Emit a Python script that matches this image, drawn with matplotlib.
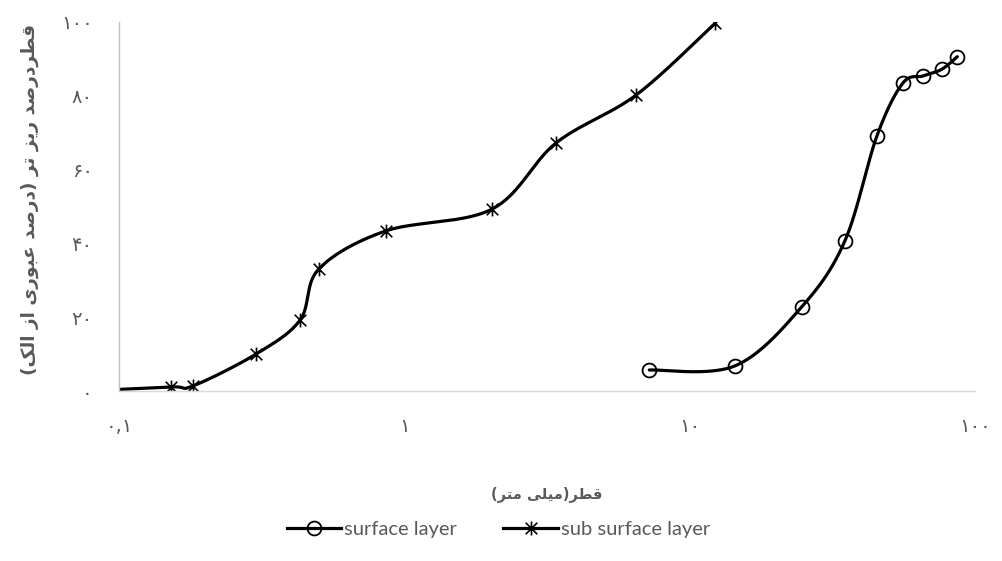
import numpy as np
import matplotlib
matplotlib.use("Agg")
import matplotlib.pyplot as plt
from matplotlib.lines import Line2D
from matplotlib.path import Path

# sieve analysis: particle diameter (mm) vs percent passing
sub_d = [0.075, 0.152, 0.182, 0.302, 0.431, 0.502, 0.863, 2.03, 3.40, 6.49, 12.3]
sub_p = [0.0, 1.1, 1.4, 10.0, 19.2, 33.1, 43.4, 49.3, 67.2, 80.2, 99.7]

surf_d = [7.22, 14.4, 24.7, 35.0, 45.3, 55.8, 65.9, 76.5, 86.7]
surf_p = [5.7, 6.8, 22.8, 40.7, 69.1, 83.4, 85.4, 87.2, 90.6]

y_ticks = [0, 20, 40, 60, 80, 100]
y_tick_labels = ["۰", "۲۰", "۴۰", "۶۰", "۸۰", "۱۰۰"]
x_ticks = [0.1, 1, 10, 100]
x_tick_labels = ["۰,۱", "۱", "۱۰", "۱۰۰"]

x_title = "قطر(میلی متر)"
y_title = "قطردرصد ریز تر (درصد عبوری از الک)"
series_names = ["surface layer", "sub surface layer"]

GREY = "#595959"

# isolated, final, initial, medial presentation forms
FORMS = {
    "ا": ("\uFE8D", "\uFE8E", None, None),
    "ب": ("\uFE8F", "\uFE90", "\uFE91", "\uFE92"),
    "ت": ("\uFE95", "\uFE96", "\uFE97", "\uFE98"),
    "د": ("\uFEA9", "\uFEAA", None, None),
    "ر": ("\uFEAD", "\uFEAE", None, None),
    "ز": ("\uFEAF", "\uFEB0", None, None),
    "ص": ("\uFEB9", "\uFEBA", "\uFEBB", "\uFEBC"),
    "ط": ("\uFEC1", "\uFEC2", "\uFEC3", "\uFEC4"),
    "ع": ("\uFEC9", "\uFECA", "\uFECB", "\uFECC"),
    "ق": ("\uFED5", "\uFED6", "\uFED7", "\uFED8"),
    "ل": ("\uFEDD", "\uFEDE", "\uFEDF", "\uFEE0"),
    "م": ("\uFEE1", "\uFEE2", "\uFEE3", "\uFEE4"),
    "و": ("\uFEED", "\uFEEE", None, None),
    "ی": ("\uFBFC", "\uFBFD", "\uFBFE", "\uFBFF"),
    "ک": ("\uFB8E", "\uFB8F", "\uFB90", "\uFB91"),
}


def shape_fa(text):
    """Join Persian letters and put them in visual (left-to-right) order."""
    out = []
    for i, ch in enumerate(text):
        if ch not in FORMS:
            out.append(ch)
            continue
        iso, fin, ini, med = FORMS[ch]
        prev = text[i - 1] if i > 0 else ""
        nxt = text[i + 1] if i + 1 < len(text) else ""
        join_prev = prev in FORMS and FORMS[prev][2] is not None
        join_next = ini is not None and nxt in FORMS
        if join_prev and join_next:
            out.append(med)
        elif join_prev:
            out.append(fin)
        elif join_next:
            out.append(ini)
        else:
            out.append(iso)
    visual = "".join(out)[::-1]
    return visual.translate(str.maketrans("()", ")("))


def smooth(xs, ys, n=40):
    """Excel-like smoothed line (cardinal bezier) in log-x space."""
    u = np.log10(np.asarray(xs, dtype=float))
    v = np.asarray(ys, dtype=float)
    pts = np.column_stack([u, v])
    ext = np.vstack([pts[0], pts, pts[-1]])
    t = np.linspace(0, 1, n)[:, None]
    seg = []
    for i in range(len(pts) - 1):
        p0, p3 = ext[i + 1], ext[i + 2]
        p1 = p0 + (ext[i + 2] - ext[i]) / 6.0
        p2 = p3 - (ext[i + 3] - ext[i + 1]) / 6.0
        b = ((1 - t) ** 3) * p0 + 3 * ((1 - t) ** 2) * t * p1 + 3 * (1 - t) * t ** 2 * p2 + t ** 3 * p3
        seg.append(b)
    curve = np.vstack(seg)
    return 10 ** curve[:, 0], curve[:, 1]


star = Path(
    [(-1, -1), (1, 1), (-1, 1), (1, -1), (0, -1.2), (0, 1.2)],
    [Path.MOVETO, Path.LINETO, Path.MOVETO, Path.LINETO, Path.MOVETO, Path.LINETO],
)

fig = plt.figure(figsize=(10.03, 5.61), dpi=100)
ax = fig.add_axes([0.1186, 0.303, 0.8535, 0.6578])

lw = 2.3
sx, sy = smooth(surf_d, surf_p)
ax.plot(sx, sy, color="black", lw=lw, solid_capstyle="round")
ax.plot(surf_d, surf_p, linestyle="none", marker="o", ms=10, mfc="none", mec="black", mew=1.3)

bx, by = smooth(sub_d, sub_p)
ax.plot(bx, by, color="black", lw=lw, solid_capstyle="round")
ax.plot(sub_d, sub_p, linestyle="none", marker=star, ms=10, mfc="none", mec="black", mew=1.2)

ax.set_xscale("log")
ax.set_xlim(0.1, 100)
ax.set_ylim(0, 100)
ax.set_xticks(x_ticks)
ax.set_xticklabels(x_tick_labels)
ax.set_yticks(y_ticks)
ax.set_yticklabels(y_tick_labels)
ax.minorticks_off()
ax.tick_params(length=0, colors=GREY, labelsize=14)
ax.tick_params(axis="x", pad=19)
ax.tick_params(axis="y", pad=19)

for side in ["top", "right"]:
    ax.spines[side].set_visible(False)
ax.spines["left"].set_color("#bfbfbf")
ax.spines["bottom"].set_color("#d9d9d9")
ax.spines["left"].set_linewidth(1.0)
ax.spines["bottom"].set_linewidth(1.0)

ax.set_xlabel(shape_fa(x_title), fontsize=10.5, fontweight="bold", color=GREY, va="center")
ax.set_ylabel(shape_fa(y_title), fontsize=13.3, fontweight="bold", color=GREY, va="center", ha="center")
ax.xaxis.set_label_coords(0.5, -0.279)
ax.yaxis.set_label_coords(-0.104, 0.518)

handles = [
    Line2D([], [], color="black", lw=lw, marker="o", ms=10, mfc="none", mec="black", mew=1.3),
    Line2D([], [], color="black", lw=lw, marker=star, ms=10, mfc="none", mec="black", mew=1.2),
]
fig.legend(handles, series_names, loc="center", bbox_to_anchor=(0.497, 0.057), ncol=2,
           frameon=False, handlelength=2.7, columnspacing=2.3, handletextpad=0.15,
           prop={"family": "Lato", "size": 14.5}, labelcolor=GREY)

fig.savefig("out.png", dpi=100)
